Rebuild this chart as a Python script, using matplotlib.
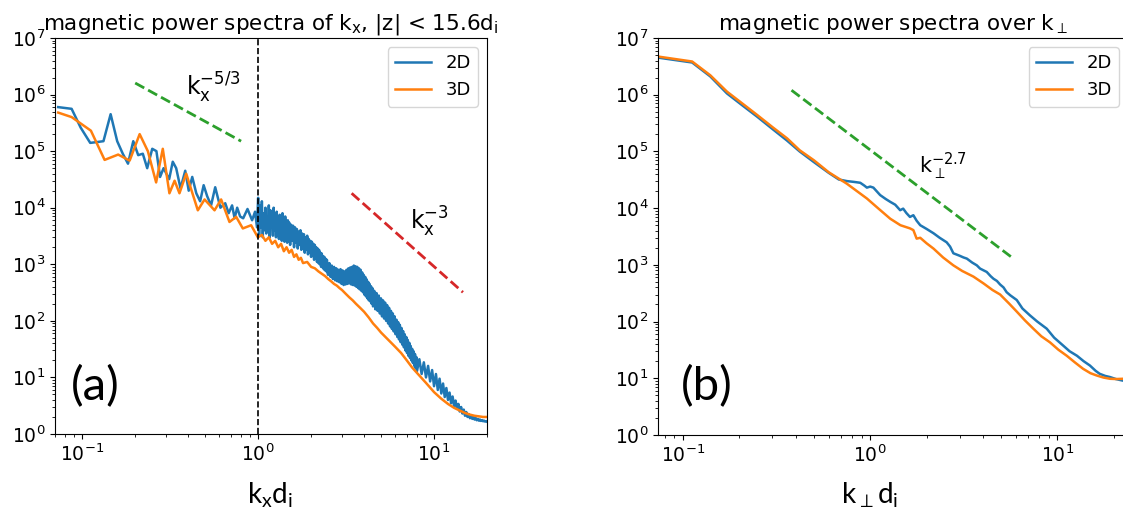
import matplotlib
matplotlib.use('Agg')
import matplotlib.pyplot as plt

# spectra along k_x, |z| < 15.6 d_i  (2D run, low k part)
kx_2d_low = [0.073, 0.087, 0.098, 0.111, 0.122, 0.132, 0.145, 0.158, 0.170, 0.182, 0.195,
             0.208, 0.221, 0.234, 0.250, 0.264, 0.277, 0.290, 0.312, 0.327, 0.342, 0.362,
             0.385, 0.403, 0.422, 0.445, 0.468, 0.490, 0.513, 0.540, 0.570, 0.610, 0.650,
             0.680, 0.711, 0.735, 0.760, 0.790, 0.822, 0.870, 0.924, 0.960, 0.985]
p_2d_low = [6.0e5, 5.6e5, 2.6e5, 1.4e5, 1.45e5, 1.5e5, 4.5e5, 1.5e5, 9.0e4, 6.0e4, 1.5e5,
            8.5e4, 9.0e4, 5.0e4, 1.1e5, 1.0e5, 3.5e4, 5.0e4, 3.2e4, 6.5e4, 5.0e4, 2.2e4,
            4.5e4, 2.0e4, 3.5e4, 1.8e4, 1.3e4, 2.5e4, 1.6e4, 1.1e4, 2.3e4, 1.0e4, 1.2e4,
            8.0e3, 1.1e4, 6.5e3, 1.0e4, 7.0e3, 6.5e3, 9.5e3, 6.0e3, 8.5e3, 4.5e3]

# 2D run, k_x d_i > 1 (strongly oscillating part)
kx_2d_high = [
    1.0, 1.0125, 1.025, 1.0375, 1.05, 1.0625, 1.075, 1.0875, 1.1, 1.1125, 1.125, 1.1375,
    1.15, 1.1625, 1.175, 1.1875, 1.2, 1.2125, 1.225, 1.2375, 1.25, 1.2625, 1.275, 1.2875,
    1.3, 1.3125, 1.325, 1.3375, 1.35, 1.3625, 1.375, 1.3875, 1.4, 1.4125, 1.425, 1.4375,
    1.45, 1.4625, 1.475, 1.4875,
    1.50, 1.52, 1.54, 1.56, 1.58, 1.60, 1.62, 1.64, 1.66, 1.68, 1.70, 1.72, 1.74, 1.76,
    1.78, 1.80, 1.82, 1.84, 1.86, 1.88, 1.90, 1.92, 1.94, 1.96, 1.98, 2.00, 2.02, 2.04,
    2.06, 2.08, 2.10, 2.12, 2.14, 2.16, 2.18, 2.20, 2.22, 2.24, 2.26, 2.28, 2.30, 2.32,
    2.34, 2.36, 2.38, 2.40, 2.42, 2.44, 2.46, 2.48,
    2.50, 2.54, 2.58, 2.62, 2.66, 2.70, 2.74, 2.78, 2.82, 2.86, 2.90, 2.94, 2.98, 3.02,
    3.06, 3.10, 3.14, 3.18, 3.22, 3.26, 3.30, 3.34, 3.38, 3.42, 3.46, 3.50, 3.54, 3.58,
    3.62, 3.66, 3.70, 3.74, 3.78, 3.82, 3.86, 3.90, 3.94, 3.98, 4.02, 4.06, 4.10, 4.14,
    4.18, 4.22, 4.26, 4.30, 4.34, 4.38, 4.42, 4.46,
    4.50, 4.57, 4.64, 4.71, 4.78, 4.85, 4.92, 4.99, 5.06, 5.13, 5.20, 5.27, 5.34, 5.41,
    5.48, 5.55, 5.62, 5.69, 5.76, 5.83, 5.90, 5.97, 6.04, 6.11, 6.18, 6.25, 6.32, 6.39,
    6.46, 6.53, 6.60, 6.67, 6.74, 6.81, 6.88, 6.95, 7.02, 7.09, 7.16, 7.23, 7.30, 7.37,
    7.44, 7.51, 7.58, 7.65, 7.72, 7.79, 7.86, 7.93,
    8.00, 8.25, 8.50, 8.75, 9.00, 9.25, 9.50, 9.75, 10.0, 10.25, 10.5, 10.75, 11.0, 11.25,
    11.5, 11.75, 12.0, 12.25, 12.5, 12.75, 13.0, 13.25, 13.5, 13.75, 14.0, 14.25, 14.5,
    14.75, 15.0, 15.25, 15.5, 15.75, 16.0, 16.25, 16.5, 16.75, 17.0, 17.25, 17.5, 17.75,
    18.0, 18.25, 18.5, 18.75, 19.0, 19.25, 19.5, 19.75, 20.0]
p_2d_high = [
    1.5e4, 3.2e3, 1.1e4, 4.5e3, 1.3e4, 3.0e3, 8.0e3, 4.0e3, 1.0e4, 3.5e3, 7.0e3, 4.5e3,
    1.1e4, 3.0e3, 9.0e3, 5.0e3, 7.5e3, 3.2e3, 1.0e4, 4.0e3, 6.5e3, 3.0e3, 8.5e3, 4.2e3,
    6.0e3, 2.8e3, 7.5e3, 3.8e3, 6.5e3, 2.6e3, 8.0e3, 3.5e3, 5.5e3, 2.5e3, 7.0e3, 3.2e3,
    5.0e3, 2.4e3, 6.0e3, 3.0e3,
    5.5e3, 2.2e3, 5.0e3, 2.6e3, 4.8e3, 2.0e3, 4.5e3, 2.4e3, 4.2e3, 1.9e3, 3.8e3, 2.2e3,
    4.0e3, 1.8e3, 3.5e3, 2.0e3, 3.4e3, 1.6e3, 3.0e3, 1.8e3, 3.2e3, 1.5e3, 2.8e3, 1.6e3,
    2.6e3, 1.35e3, 2.5e3, 1.4e3, 2.3e3, 1.2e3, 2.2e3, 1.25e3, 2.0e3, 1.1e3, 1.9e3, 1.05e3,
    1.8e3, 1.0e3, 1.6e3, 9.0e2, 1.55e3, 8.8e2, 1.4e3, 8.2e2, 1.35e3, 7.8e2, 1.25e3, 7.5e2,
    1.2e3, 7.0e2,
    6.5e2, 1.05e3, 6.0e2, 9.5e2, 5.5e2, 9.0e2, 5.2e2, 8.5e2, 5.0e2, 8.0e2, 4.8e2, 8.2e2,
    4.5e2, 7.8e2, 4.3e2, 7.5e2, 4.4e2, 8.0e2, 4.5e2, 8.5e2, 4.6e2, 8.8e2, 4.4e2, 9.0e2,
    4.3e2, 9.5e2, 4.2e2, 9.2e2, 4.0e2, 9.0e2, 3.8e2, 8.5e2, 3.6e2, 8.0e2, 3.4e2, 7.2e2,
    3.2e2, 6.5e2, 2.9e2, 6.0e2, 2.7e2, 5.4e2, 2.5e2, 4.9e2, 2.3e2, 4.5e2, 2.2e2, 4.1e2,
    2.0e2, 3.8e2,
    1.8e2, 3.4e2, 1.6e2, 3.1e2, 1.5e2, 2.8e2, 1.35e2, 2.5e2, 1.2e2, 2.3e2, 1.1e2, 2.1e2,
    1.0e2, 1.9e2, 90, 170, 80, 150, 72, 135, 65, 120, 58, 105, 52, 95, 47, 85, 42, 75,
    38, 66, 34, 58, 30, 52, 27, 46, 24, 41, 22, 36, 20, 32, 18, 29, 16, 26, 14.5, 23,
    13, 21, 11.5, 18.5, 10, 16, 8.5, 13.5, 7.0, 11.5, 6.0, 9.5, 5.2, 7.8, 4.5, 6.5, 4.0,
    5.4, 3.5, 4.6, 3.1, 3.9, 2.8, 3.4, 2.5, 3.0, 2.3, 2.7, 2.1, 2.45, 2.0, 2.25, 1.9, 2.1,
    1.85, 2.0, 1.8, 1.92, 1.75, 1.85, 1.72, 1.8, 1.7, 1.76, 1.68, 1.72, 1.66, 1.69, 1.65]

# 3D run along k_x
kx_3d = [0.073, 0.087, 0.112, 0.134, 0.160, 0.186, 0.212, 0.236, 0.263, 0.287, 0.313, 0.335,
         0.357, 0.390, 0.454, 0.496, 0.565, 0.616, 0.687, 0.750, 0.818, 0.912, 0.996,
         1.05, 1.10, 1.15, 1.20, 1.25, 1.30, 1.35, 1.40, 1.45, 1.50, 1.55, 1.60, 1.65, 1.70,
         1.75, 1.80, 1.90, 2.00, 2.10, 2.20, 2.30, 2.40, 2.50, 2.60, 2.70, 2.80, 2.90, 3.00,
         3.15, 3.30, 3.45, 3.60, 3.80, 4.00, 4.25, 4.50, 4.75, 5.00, 5.50, 6.00, 6.50, 7.00,
         7.50, 8.00, 9.00, 10.0, 11.0, 12.0, 13.0, 14.0, 15.0, 16.0, 17.0, 18.0, 19.0, 20.0]
p_3d = [4.8e5, 4.0e5, 2.3e5, 7.0e4, 8.7e4, 6.8e4, 2.0e5, 1.0e5, 2.8e4, 1.1e5, 1.8e4, 3.0e4,
        1.8e4, 4.0e4, 9.0e3, 1.4e4, 9.0e3, 1.4e4, 5.6e3, 6.9e3, 4.3e3, 4.9e3, 3.0e3,
        3.3e3, 2.6e3, 3.0e3, 2.3e3, 2.6e3, 2.0e3, 2.3e3, 1.7e3, 2.0e3, 1.6e3, 1.8e3, 1.35e3,
        1.5e3, 1.2e3, 1.3e3, 1.05e3, 1.1e3, 9.0e2, 8.5e2, 7.5e2, 6.8e2, 6.2e2, 5.5e2, 5.0e2,
        4.5e2, 4.2e2, 3.8e2, 3.5e2, 3.0e2, 2.6e2, 2.3e2, 2.0e2, 1.7e2, 1.45e2, 1.15e2, 90,
        75, 62, 46, 35, 27, 20, 15, 12, 8.0, 5.5, 4.2, 3.4, 2.9, 2.6, 2.35, 2.2, 2.1, 2.05,
        2.0, 2.0]

# spectra over k_perp
kp_2d = [0.074, 0.112, 0.14, 0.172, 0.21, 0.249, 0.30, 0.36, 0.42, 0.50, 0.60, 0.68, 0.75,
         0.82, 0.885, 0.93, 0.96, 1.00, 1.04, 1.13, 1.21, 1.28, 1.36, 1.445, 1.50, 1.56,
         1.63, 1.70, 1.77, 1.85, 2.0, 2.18, 2.35, 2.56, 2.67, 2.78, 3.0, 3.15, 3.28, 3.5,
         3.71, 3.86, 4.03, 4.19, 4.4, 4.55, 4.75, 4.94, 5.15, 5.35, 5.6, 6.06, 6.5, 7.14,
         7.8, 8.76, 9.6, 10.7, 11.6, 12.7, 13.8, 14.9, 16.0, 16.8, 18.0, 19.1, 20.5, 22.3, 24.0]
pp_2d = [4.5e6, 3.7e6, 2.1e6, 1.05e6, 6.3e5, 4.1e5, 2.5e5, 1.55e5, 1.0e5, 6.5e4, 4.2e4,
         3.2e4, 3.0e4, 2.9e4, 2.8e4, 2.5e4, 2.3e4, 2.4e4, 2.3e4, 1.7e4, 1.45e4, 1.29e4,
         1.15e4, 9.2e3, 9.8e3, 8.2e3, 7.0e3, 7.5e3, 6.0e3, 5.0e3, 4.3e3, 3.6e3, 3.0e3,
         2.5e3, 2.1e3, 1.6e3, 1.45e3, 1.35e3, 1.29e3, 1.1e3, 9.8e2, 8.6e2, 8.0e2, 7.5e2,
         6.3e2, 5.7e2, 5.2e2, 4.5e2, 4.0e2, 3.3e2, 2.9e2, 2.4e2, 1.7e2, 1.28e2, 1.0e2, 75,
         52, 38, 30, 25, 20, 16.8, 13.5, 12, 11, 10.5, 9.7, 9.1, 9.0]

kp_3d = [0.074, 0.112, 0.14, 0.172, 0.21, 0.249, 0.30, 0.36, 0.42, 0.50, 0.60, 0.75, 0.96,
         1.10, 1.28, 1.45, 1.63, 1.70, 1.77, 1.85, 2.0, 2.18, 2.45, 2.78, 3.1, 3.56, 4.03,
         4.5, 4.94, 5.5, 6.06, 6.7, 7.43, 8.2, 9.12, 10.1, 11.2, 12.4, 13.7, 15.0, 16.2,
         17.6, 19.1, 20.5, 22.3, 24.0]
pp_3d = [4.7e6, 3.85e6, 2.2e6, 1.13e6, 6.8e5, 4.4e5, 2.7e5, 1.7e5, 1.05e5, 7.0e4, 4.3e4,
         2.7e4, 1.48e4, 1.0e4, 6.5e3, 5.0e3, 4.4e3, 4.1e3, 2.9e3, 3.0e3, 2.4e3, 1.93e3,
         1.35e3, 9.8e2, 7.8e2, 6.2e2, 4.7e2, 3.6e2, 3.0e2, 2.1e2, 1.5e2, 1.05e2, 75, 55, 43,
         32, 25, 19, 14.7, 12.3, 11.2, 10.3, 9.8, 9.7, 9.8, 9.9]

# reference slopes (end points)
ref53_k, ref53_p = [0.2, 0.8], [1.6e6, 1.5e5]
ref3_k, ref3_p = [3.4, 14.6], [1.8e4, 3.2e2]
ref27_k, ref27_p = [0.38, 5.8], [1.2e6, 1.3e3]

W, H = 1123, 512
fig = plt.figure(figsize=(W / 100, H / 100), dpi=100)

def box(l, r, t, b):
  return [l / W, (H - b) / H, (r - l) / W, (b - t) / H]

ax1 = fig.add_axes(box(55, 487, 38, 434))
ax2 = fig.add_axes(box(658, 1128, 38, 435))

c2d, c3d = '#1f77b4', '#ff7f0e'
lab = dict(family=['Lato', 'DejaVu Sans'])

ax1.plot(kx_2d_low + kx_2d_high, p_2d_low + p_2d_high, color=c2d, lw=1.8, label='2D')
ax1.plot(kx_3d, p_3d, color=c3d, lw=1.8, label='3D')
ax1.plot(ref53_k, ref53_p, '--', color='#2ca02c', lw=2)
ax1.plot(ref3_k, ref3_p, '--', color='#d62728', lw=2)
ax1.axvline(1.0, color='k', ls='--', lw=1.2)
ax1.text(0.56, 1.3e6, r'$\mathregular{k_x^{-5/3}}$', fontsize=17, ha='center', va='center')
ax1.text(9.4, 5.6e3, r'$\mathregular{k_x^{-3}}$', fontsize=17, ha='center', va='center')
ax1.set_xlim(0.07, 20)
ax1.set_title(r'magnetic power spectra of $\mathregular{k_x}$, |z| < 15.6$\mathregular{d_i}$',
              fontsize=15.5)

ax2.plot(kp_2d, pp_2d, color=c2d, lw=1.8, label='2D')
ax2.plot(kp_3d, pp_3d, color=c3d, lw=1.8, label='3D')
ax2.plot(ref27_k, ref27_p, '--', color='#2ca02c', lw=2)
ax2.text(2.45, 5.4e4, r'$\mathregular{k_\perp^{-2.7}}$', fontsize=15, ha='center', va='center')
ax2.set_xlim(0.0736, 23.8)
ax2.set_title(r'magnetic power spectra over $\mathregular{k_\perp}$', fontsize=15.5)

for ax in (ax1, ax2):
  ax.set_xscale('log')
  ax.set_yscale('log')
  ax.set_ylim(1, 1e7)
  ax.tick_params(labelsize=13.5)
  ax.legend(loc='upper right', fontsize=13)

fig.text(270 / W, 1 - 495 / H, r'$\mathregular{k_xd_i}$', fontsize=20, ha='center', va='center', **lab)
fig.text(870 / W, 1 - 495 / H, r'$\mathregular{k_\perp d_i}$', fontsize=20, ha='center', va='center', **lab)
fig.text(95 / W, 1 - 387 / H, '(a)', fontsize=34, ha='center', va='center', **lab)
fig.text(707 / W, 1 - 387 / H, '(b)', fontsize=34, ha='center', va='center', **lab)

fig.savefig('out.png', dpi=100)
